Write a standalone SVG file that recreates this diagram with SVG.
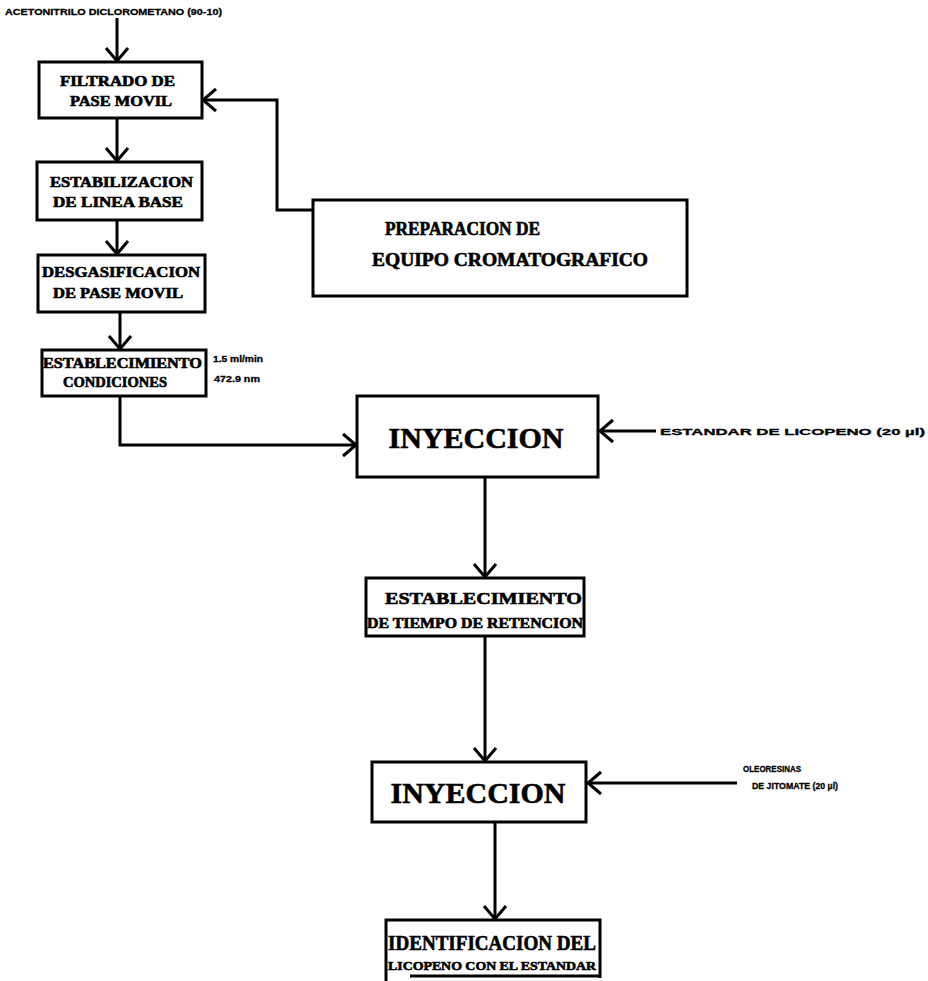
<svg xmlns="http://www.w3.org/2000/svg" width="928" height="981" viewBox="0 0 928 981">
  <style>
    .box { fill: #fff; stroke: #000; stroke-width: 3; }
    .wire { fill: none; stroke: #000; stroke-width: 3; }
    .lbl { font-family: "Liberation Serif", serif; font-weight: bold; fill: #000; stroke: #000; stroke-width: 0.6; }
    .sm { font-family: "Liberation Sans", Arial, sans-serif; font-weight: bold; fill: #000; font-size: 9px; stroke: #000; stroke-width: 0.3; }
    .big { font-family: "Liberation Serif", serif; font-weight: bold; fill: #000; font-size: 30px; stroke: #000; stroke-width: 0.6; }
  </style>
  <defs>
    <!-- open chevron arrowhead used on every connector -->
    <marker id="chev" markerUnits="userSpaceOnUse" markerWidth="18" markerHeight="26" refX="14" refY="12" orient="auto" viewBox="0 0 18 24">
      <path d="M1,1 L14,12 L1,23" fill="none" stroke="#000" stroke-width="3"/>
    </marker>
  </defs>
  <rect width="928" height="981" fill="#fff"/>

  <!-- connectors -->
  <g id="connectors">
    <line class="wire" x1="117" y1="18" x2="117" y2="61" marker-end="url(#chev)"/>
    <line class="wire" x1="117" y1="118" x2="117" y2="161" marker-end="url(#chev)"/>
    <line class="wire" x1="117" y1="220" x2="117" y2="254" marker-end="url(#chev)"/>
    <line class="wire" x1="120" y1="312" x2="120" y2="349" marker-end="url(#chev)"/>
    <polyline class="wire" points="313,210 277,210 277,100 203,100" marker-end="url(#chev)"/>
    <polyline class="wire" points="120,396 120,445 356,445" marker-end="url(#chev)"/>
    <line class="wire" x1="656" y1="431" x2="600" y2="431" marker-end="url(#chev)"/>
    <line class="wire" x1="485" y1="477" x2="485" y2="577" marker-end="url(#chev)"/>
    <line class="wire" x1="485" y1="636" x2="485" y2="761" marker-end="url(#chev)"/>
    <line class="wire" x1="737" y1="783" x2="588" y2="783" marker-end="url(#chev)"/>
    <line class="wire" x1="495" y1="822" x2="495" y2="919" marker-end="url(#chev)"/>
  </g>

  <text class="sm" x="5" y="15" textLength="217" lengthAdjust="spacingAndGlyphs">ACETONITRILO DICLOROMETANO (90-10)</text>

  <g id="filtrado">
    <rect class="box" x="39" y="62" width="163" height="56"/>
    <text class="lbl" font-size="14" x="60" y="86" textLength="115" lengthAdjust="spacingAndGlyphs">FILTRADO DE</text>
    <text class="lbl" font-size="14" x="70" y="106" textLength="102" lengthAdjust="spacingAndGlyphs">PASE MOVIL</text>
  </g>

  <g id="estabilizacion">
    <rect class="box" x="37" y="162" width="165" height="58"/>
    <text class="lbl" font-size="14" x="50" y="187" textLength="143" lengthAdjust="spacingAndGlyphs">ESTABILIZACION</text>
    <text class="lbl" font-size="14" x="53" y="207" textLength="130" lengthAdjust="spacingAndGlyphs">DE LINEA BASE</text>
  </g>

  <g id="preparacion">
    <rect class="box" x="313" y="200" width="374" height="96"/>
    <text class="lbl" font-size="18" x="385" y="235" textLength="155" lengthAdjust="spacingAndGlyphs">PREPARACION DE</text>
    <text class="lbl" font-size="18" x="372" y="266" textLength="276" lengthAdjust="spacingAndGlyphs">EQUIPO CROMATOGRAFICO</text>
  </g>

  <g id="desgasificacion">
    <rect class="box" x="38" y="255" width="167" height="57"/>
    <text class="lbl" font-size="14" x="42" y="277" textLength="158" lengthAdjust="spacingAndGlyphs">DESGASIFICACION</text>
    <text class="lbl" font-size="14" x="53" y="298" textLength="130" lengthAdjust="spacingAndGlyphs">DE PASE MOVIL</text>
  </g>

  <g id="condiciones">
    <rect class="box" x="42" y="350" width="164" height="46"/>
    <text class="lbl" font-size="14" x="43" y="368" textLength="159" lengthAdjust="spacingAndGlyphs">ESTABLECIMIENTO</text>
    <text class="lbl" font-size="14" x="63" y="387" textLength="104" lengthAdjust="spacingAndGlyphs">CONDICIONES</text>
    <text class="sm" x="213" y="362" textLength="50" lengthAdjust="spacingAndGlyphs">1.5 ml/min</text>
    <text class="sm" x="214" y="382" textLength="46" lengthAdjust="spacingAndGlyphs">472.9 nm</text>
  </g>

  <g id="inyeccion-estandar">
    <rect class="box" x="357" y="396" width="241" height="81"/>
    <text class="big" x="476" y="448" text-anchor="middle">INYECCION</text>
    <text class="sm" x="660" y="435" textLength="265" lengthAdjust="spacingAndGlyphs">ESTANDAR DE LICOPENO (20 µl)</text>
  </g>

  <g id="tiempo-retencion">
    <rect class="box" x="366" y="578" width="218" height="58"/>
    <text class="lbl" font-size="17" x="385" y="604" textLength="197" lengthAdjust="spacingAndGlyphs">ESTABLECIMIENTO</text>
    <text class="lbl" font-size="14" x="367" y="628" textLength="216" lengthAdjust="spacingAndGlyphs">DE TIEMPO DE RETENCION</text>
  </g>

  <g id="inyeccion-oleoresinas">
    <rect class="box" x="372" y="762" width="214" height="60"/>
    <text class="big" x="478" y="803" text-anchor="middle">INYECCION</text>
    <text class="sm" x="743" y="772" textLength="58" lengthAdjust="spacingAndGlyphs">OLEORESINAS</text>
    <text class="sm" x="752" y="789" textLength="86" lengthAdjust="spacingAndGlyphs">DE JITOMATE (20 µl)</text>
  </g>

  <g id="identificacion">
    <path class="wire" d="M386,981 L386,920 L600,920 L600,978 M410,976 L600,976"/>
    <text class="lbl" font-size="20" x="388" y="950" textLength="208" lengthAdjust="spacingAndGlyphs">IDENTIFICACION DEL</text>
    <text class="lbl" font-size="13" x="388" y="970" textLength="208" lengthAdjust="spacingAndGlyphs">LICOPENO CON EL ESTANDAR</text>
  </g>
</svg>
